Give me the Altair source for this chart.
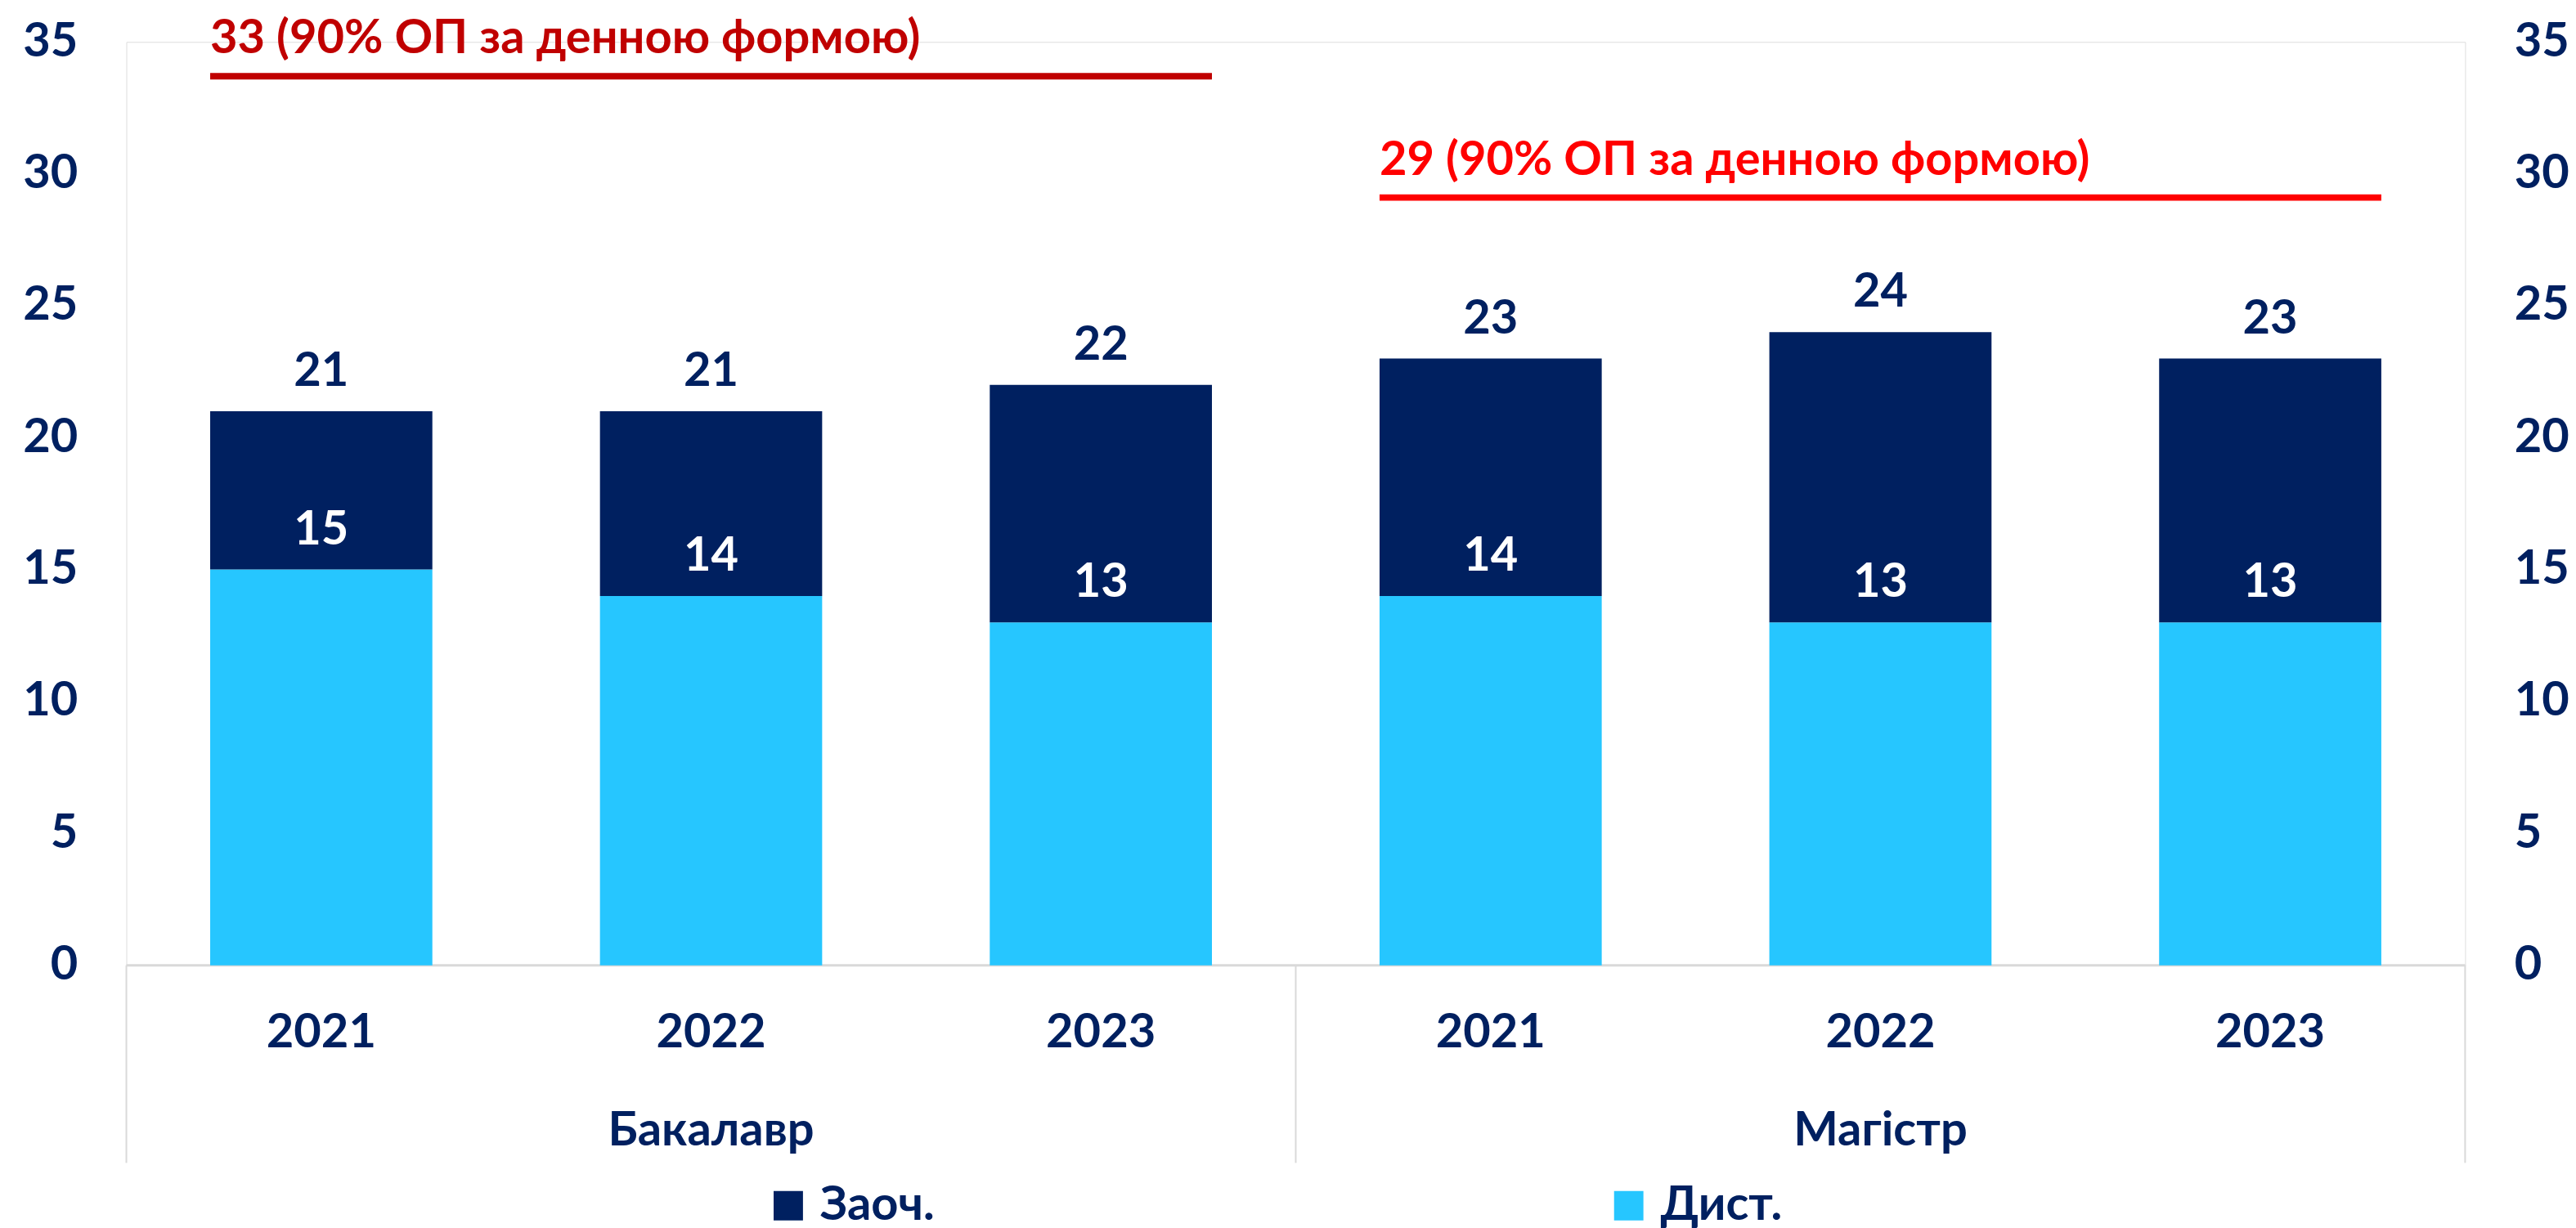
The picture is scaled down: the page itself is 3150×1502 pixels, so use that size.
import altair as alt
import pandas as pd

# ---------------- data ----------------
levels = ["Бакалавр", "Бакалавр", "Бакалавр", "Магістр", "Магістр", "Магістр"]
years = ["2021", "2022", "2023", "2021", "2022", "2023"]
dist = [15, 14, 13, 14, 13, 13]          # Дист. (light blue, bottom)
zaoch = [6, 7, 9, 9, 11, 10]             # Заоч. (navy, top)
series = ["Заоч.", "Дист."]
series_colors = ["#002060", "#26C6FF"]
group_names = ["Бакалавр", "Магістр"]
ref_labels = ["33 (90% ОП за денною формою)", "29 (90% ОП за денною формою)"]
ref_levels = [33.7, 29.1]
ref_colors = ["#C00000", "#FF0000"]
y_ticks = [0, 5, 10, 15, 20, 25, 30, 35]

# ---------------- styling ----------------
FONT = "Lato"
NAVY = "#002060"
GRID = "#D9D9D9"
FS = 58
HALF = 0.285           # half bar width in category units
YEAR_Y = -2.57         # year labels below the axis (data units)
GROUP_Y = -6.31        # group labels
DIV_Y = -7.49          # end of divider lines

xsc = alt.Scale(domain=[0, 6], nice=False, zero=False)
ysc = alt.Scale(domain=[0, 35], nice=False, zero=False)

left_axis = alt.Axis(values=y_ticks, orient="left", labelFont=FONT, labelFontSize=FS,
                     labelFontWeight="bold", labelColor=NAVY, domain=False, ticks=False,
                     grid=False, labelPadding=60, title=None)
right_axis = alt.Axis(values=y_ticks, orient="right", labelFont=FONT, labelFontSize=FS,
                      labelFontWeight="bold", labelColor=NAVY, domain=False, ticks=False,
                      grid=False, labelPadding=60, title=None)

# ---------------- tables ----------------
rows = []
lab = []
for i in range(len(years)):
    c = i + 0.5
    total = dist[i] + zaoch[i]
    rows.append(dict(s="Дист.", x0=c - HALF, x1=c + HALF, y0=0, y1=dist[i]))
    rows.append(dict(s="Заоч.", x0=c - HALF, x1=c + HALF, y0=dist[i], y1=total))
    lab.append(dict(xc=c, total=total, dist=dist[i], year=years[i], yy=YEAR_Y))
bars_df = pd.DataFrame(rows)
lab_df = pd.DataFrame(lab)

n_per = len(years) // len(group_names)
grp_df = pd.DataFrame(dict(name=group_names,
                           xc=[g * n_per + n_per / 2 for g in range(len(group_names))],
                           yy=[GROUP_Y] * len(group_names)))
div_df = pd.DataFrame(dict(x=[g * n_per for g in range(len(group_names) + 1)],
                           y0=[0] * (len(group_names) + 1),
                           y1=[DIV_Y] * (len(group_names) + 1)))
base_df = pd.DataFrame(dict(x0=[0], x1=[len(years)], y=[0]))
ref_df = pd.DataFrame(dict(label=ref_labels, level=ref_levels, color=ref_colors,
                           xs=[g * n_per + 0.5 - HALF for g in range(len(group_names))],
                           xe=[g * n_per + n_per - 0.5 + HALF for g in range(len(group_names))]))
tick_df = pd.DataFrame(dict(v=y_ticks))

# ---------------- layers ----------------
bars = alt.Chart(bars_df).mark_bar(strokeWidth=0).encode(
    x=alt.X("x0:Q", scale=xsc, axis=None),
    x2="x1:Q",
    y=alt.Y("y0:Q", scale=ysc, axis=left_axis),
    y2="y1:Q",
    color=alt.Color("s:N", scale=alt.Scale(domain=series, range=series_colors),
                    legend=alt.Legend(orient="none", legendX=783, legendY=1399,
                                      direction="horizontal", title=None,
                                      symbolType="square", symbolSize=1296,
                                      symbolStrokeWidth=0, symbolOpacity=1,
                                      labelFont=FONT, labelFontSize=FS,
                                      labelFontWeight="bold", labelColor=NAVY,
                                      labelOffset=10, columnPadding=822)),
)

tot_text = alt.Chart(lab_df).mark_text(font=FONT, fontSize=FS, fontWeight="bold",
                                       color=NAVY, baseline="middle", dy=-48).encode(
    x=alt.X("xc:Q", scale=xsc, axis=None),
    y=alt.Y("total:Q", scale=ysc, axis=left_axis),
    text="total:Q",
)
dist_text = alt.Chart(lab_df).mark_text(font=FONT, fontSize=FS, fontWeight="bold",
                                        color="white", baseline="middle", dy=-48).encode(
    x=alt.X("xc:Q", scale=xsc, axis=None),
    y=alt.Y("dist:Q", scale=ysc, axis=left_axis),
    text="dist:Q",
)
year_text = alt.Chart(lab_df).mark_text(font=FONT, fontSize=FS, fontWeight="bold",
                                        color=NAVY, baseline="middle").encode(
    x=alt.X("xc:Q", scale=xsc, axis=None),
    y=alt.Y("yy:Q", scale=ysc, axis=left_axis),
    text="year:N",
)
group_text = alt.Chart(grp_df).mark_text(font=FONT, fontSize=FS, fontWeight="bold",
                                         color=NAVY, baseline="middle").encode(
    x=alt.X("xc:Q", scale=xsc, axis=None),
    y=alt.Y("yy:Q", scale=ysc, axis=left_axis),
    text="name:N",
)
dividers = alt.Chart(div_df).mark_rule(color=GRID, strokeWidth=2).encode(
    x=alt.X("x:Q", scale=xsc, axis=None),
    y=alt.Y("y0:Q", scale=ysc, axis=left_axis),
    y2="y1:Q",
)
baseline = alt.Chart(base_df).mark_rule(color=GRID, strokeWidth=3).encode(
    x=alt.X("x0:Q", scale=xsc, axis=None),
    x2="x1:Q",
    y=alt.Y("y:Q", scale=ysc, axis=left_axis),
)
ref_rules = alt.Chart(ref_df).mark_rule(strokeWidth=8).encode(
    x=alt.X("xs:Q", scale=xsc, axis=None),
    x2="xe:Q",
    y=alt.Y("level:Q", scale=ysc, axis=left_axis),
    color=alt.Color("color:N", scale=None),
)
ref_texts = alt.Chart(ref_df).mark_text(font=FONT, fontSize=FS, fontWeight="bold",
                                        align="left", baseline="middle", dy=-45).encode(
    x=alt.X("xs:Q", scale=xsc, axis=None),
    y=alt.Y("level:Q", scale=ysc, axis=left_axis),
    text="label:N",
    color=alt.Color("color:N", scale=None),
)

main = alt.layer(dividers, baseline, bars, tot_text, dist_text, year_text, group_text,
                 ref_rules, ref_texts)

right = alt.Chart(tick_df).mark_point(opacity=0).encode(
    x=alt.value(0),
    y=alt.Y("v:Q", scale=ysc, axis=right_axis),
)

chart = alt.layer(main, right).resolve_scale(y="independent").properties(
    width=2869, height=1133,
    padding={"left": 19, "top": 9, "right": 0, "bottom": 0},
).configure_view(stroke=None).configure(background="white")

chart.save("out.html", embed_options={"renderer": "svg", "actions": False})
